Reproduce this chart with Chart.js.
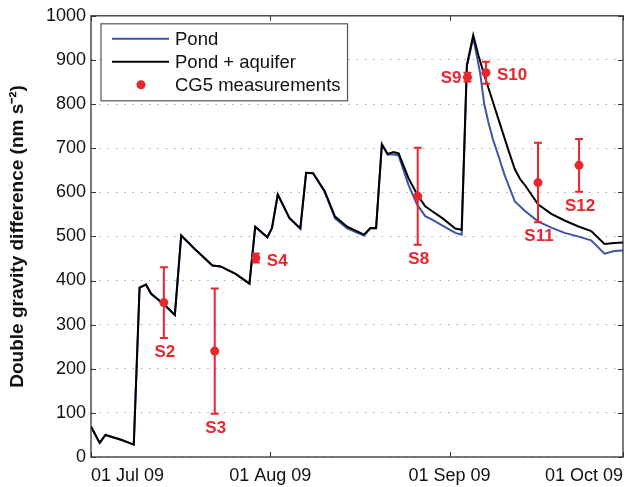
<!DOCTYPE html>
<html>
<head>
<meta charset="utf-8">
<title>Double gravity difference</title>
<script src="https://cdn.jsdelivr.net/npm/chart.js@4.4.1/dist/chart.umd.min.js"></script>
<style>
  html, body { margin: 0; padding: 0; background: #fff; }
  #chart { display: block; }
</style>
</head>
<body>
<canvas id="chart" width="636" height="487"></canvas>
<script>
// x values are days counted from 01 Jul 2009
const pondDays = [0, 1.5, 2.5, 5.2, 7.4, 8.4, 9.5, 10.4, 12.7, 14.5, 15.6, 17.9, 21.0, 22.4, 25.0,
  27.4, 28.4, 30.5, 31.3, 32.3, 34.3, 36.2, 37.2, 38.4, 40.4, 42.2, 44.3, 47.2, 48.3, 49.3,
  50.3, 51.3, 52.3, 53.2, 54.9, 56.4, 57.8, 59.0, 60.7, 63.0, 64.1, 65.0, 66.1, 67.3, 68.0,
  68.7, 69.5, 70.4, 71.5, 73.3, 75.0, 77.3, 79.6, 81.9, 84.2, 86.5, 88.8, 90.5, 92.0];
const pondValues = [69, 32, 50, 39, 28, 384, 391, 370, 345, 322, 502, 472, 434, 432, 415,
  393, 522, 498, 519, 595, 542, 517, 644, 643, 601, 541, 518, 502, 518, 518,
  709, 685, 686, 683, 617, 572, 546, 538, 525, 508, 504, 885, 950, 870, 800,
  760, 720, 685, 640, 579, 558, 534, 520, 508, 500, 491, 461, 467, 468];

const aquiferDays = [0, 1.5, 2.5, 5.2, 7.4, 8.4, 9.5, 10.4, 12.7, 14.5, 15.6, 17.9, 21.0, 22.4, 25.0,
  27.4, 28.4, 30.5, 31.3, 32.3, 34.3, 36.2, 37.2, 38.4, 40.4, 42.2, 44.3, 47.2, 48.3, 49.3,
  50.3, 51.3, 52.3, 53.2, 54.9, 56.4, 57.8, 59.0, 60.7, 63.0, 64.1, 65.0, 66.1, 67.0, 68.2,
  69.3, 70.4, 72.2, 73.3, 74.2, 75.0, 77.3, 79.6, 81.9, 84.2, 86.5, 88.8, 90.5, 92.0];
const aquiferValues = [69, 32, 50, 39, 28, 384, 391, 370, 345, 322, 502, 472, 434, 432, 415,
  393, 522, 498, 519, 595, 542, 518, 644, 643, 603, 545, 522, 504, 519, 519,
  709, 687, 691, 688, 632, 595, 568, 557, 542, 518, 515, 888, 956, 910, 858,
  813, 768, 695, 652, 630, 617, 573, 551, 536, 523, 512, 483, 485, 486];

// CG5 survey points with their uncertainty
const sampleNames = ['S2', 'S3', 'S4', 'S8', 'S9', 'S10', 'S11', 'S12'];
const sampleDays = [12.6, 21.4, 28.5, 56.5, 65.1, 68.3, 77.3, 84.4];
const sampleValues = [350, 240, 451, 591, 861, 871, 622, 661];
const sampleErrors = [80, 142, 10, 110, 10, 25, 90, 60];
const sampleLabelSide = ['below', 'below', 'right', 'below', 'left', 'right', 'below', 'below'];

const tickDays = [0, 31, 62, 92];
const tickLabels = ['01 Jul 09', '01 Aug 09', '01 Sep 09', '01 Oct 09'];

const FONT = "'Liberation Sans', Arial, Helvetica, sans-serif";
const RED = '#e8262d';
const BLUE = '#3b55a8';

function pairs(xs, ys) {
  return xs.map((x, i) => ({ x: x, y: ys[i] }));
}

// box, inward ticks, error bars, sample names and the legend
const decorations = {
  id: 'decorations',
  afterDatasetsDraw(chart) {
    const ctx = chart.ctx;
    const xs = chart.scales.x;
    const ys = chart.scales.y;
    ctx.save();
    ctx.strokeStyle = RED;
    ctx.lineWidth = 2;
    for (let i = 0; i < sampleDays.length; i++) {
      const px = xs.getPixelForValue(sampleDays[i]);
      const top = ys.getPixelForValue(sampleValues[i] + sampleErrors[i]);
      const bot = ys.getPixelForValue(sampleValues[i] - sampleErrors[i]);
      ctx.beginPath();
      ctx.moveTo(px, top); ctx.lineTo(px, bot);
      ctx.moveTo(px - 4, top); ctx.lineTo(px + 4, top);
      ctx.moveTo(px - 4, bot); ctx.lineTo(px + 4, bot);
      ctx.stroke();
    }
    ctx.fillStyle = RED;
    ctx.font = 'bold 17px ' + FONT;
    for (let i = 0; i < sampleDays.length; i++) {
      const px = xs.getPixelForValue(sampleDays[i]);
      const py = ys.getPixelForValue(sampleValues[i]);
      const bot = ys.getPixelForValue(sampleValues[i] - sampleErrors[i]);
      const side = sampleLabelSide[i];
      if (side === 'below') {
        ctx.textAlign = 'center'; ctx.textBaseline = 'top';
        ctx.fillText(sampleNames[i], px + 1, bot + 6);
      } else if (side === 'right') {
        ctx.textAlign = 'left'; ctx.textBaseline = 'middle';
        ctx.fillText(sampleNames[i], px + 11, py + 3);
      } else {
        ctx.textAlign = 'right'; ctx.textBaseline = 'middle';
        ctx.fillText(sampleNames[i], px - 6, py + 1);
      }
    }
    ctx.restore();
  },
  afterDraw(chart) {
    const ctx = chart.ctx;
    const a = chart.chartArea;
    const xs = chart.scales.x;
    const ys = chart.scales.y;
    ctx.save();
    ctx.strokeStyle = '#333';
    ctx.lineWidth = 1.3;
    ctx.strokeRect(a.left, a.top, a.right - a.left, a.bottom - a.top);
    ctx.beginPath();
    ys.ticks.forEach(t => {
      const py = Math.round(ys.getPixelForValue(t.value)) + 0.5;
      ctx.moveTo(a.left, py); ctx.lineTo(a.left + 5, py);
      ctx.moveTo(a.right, py); ctx.lineTo(a.right - 5, py);
    });
    xs.ticks.forEach(t => {
      const px = Math.round(xs.getPixelForValue(t.value)) + 0.5;
      ctx.moveTo(px, a.bottom); ctx.lineTo(px, a.bottom - 5);
      ctx.moveTo(px, a.top); ctx.lineTo(px, a.top + 5);
    });
    ctx.lineWidth = 1;
    ctx.stroke();

    // legend box in the upper left corner
    const sets = chart.data.datasets;
    ctx.font = '18.5px ' + FONT;
    let textW = 0;
    sets.forEach(ds => { textW = Math.max(textW, ctx.measureText(ds.label).width); });
    const x0 = a.left + 10;
    const y0 = a.top + 8;
    const rowH = 23;
    const w = 76 + textW + 5;
    const h = 16 + rowH * sets.length - 8;
    ctx.fillStyle = '#fff';
    ctx.fillRect(x0, y0, w, h);
    ctx.strokeStyle = '#555';
    ctx.lineWidth = 1.2;
    ctx.strokeRect(x0, y0, w, h);
    sets.forEach((ds, i) => {
      const cy = y0 + 15 + i * rowH;
      if (ds.showLine === false) {
        ctx.fillStyle = ds.pointBackgroundColor;
        ctx.beginPath();
        ctx.arc(x0 + 40, cy, 4.5, 0, Math.PI * 2);
        ctx.fill();
      } else {
        ctx.strokeStyle = ds.borderColor;
        ctx.lineWidth = ds.borderWidth;
        ctx.beginPath();
        ctx.moveTo(x0 + 11, cy); ctx.lineTo(x0 + 68, cy);
        ctx.stroke();
      }
      ctx.fillStyle = '#111';
      ctx.textAlign = 'left';
      ctx.textBaseline = 'middle';
      ctx.fillText(ds.label, x0 + 74, cy + 1);
    });
    ctx.restore();
  }
};

new Chart(document.getElementById('chart'), {
  type: 'line',
  data: {
    datasets: [
      {
        label: 'Pond',
        data: pairs(pondDays, pondValues),
        borderColor: BLUE,
        borderWidth: 2,
        pointRadius: 0,
        tension: 0,
        order: 2
      },
      {
        label: 'Pond + aquifer',
        data: pairs(aquiferDays, aquiferValues),
        borderColor: '#000',
        borderWidth: 2,
        pointRadius: 0,
        tension: 0,
        order: 1
      },
      {
        label: 'CG5 measurements',
        data: pairs(sampleDays, sampleValues),
        showLine: false,
        pointRadius: 4.5,
        pointBorderWidth: 0,
        pointBackgroundColor: RED,
        borderColor: RED,
        order: 0
      }
    ]
  },
  options: {
    responsive: false,
    animation: false,
    events: [],
    layout: { padding: { top: 14, right: 13, left: 0, bottom: 0 } },
    plugins: {
      legend: { display: false },
      tooltip: { enabled: false }
    },
    scales: {
      x: {
        type: 'linear',
        min: 0,
        max: 92,
        grid: { display: false },
        border: { display: false },
        afterBuildTicks: scale => { scale.ticks = tickDays.map(v => ({ value: v })); },
        afterFit: scale => { scale.height = 30; },
        ticks: {
          align: 'inner',
          autoSkip: false,
          maxRotation: 0,
          padding: 0,
          color: '#111',
          font: { family: FONT, size: 18 },
          callback: value => {
            const i = tickDays.indexOf(value);
            return i >= 0 ? tickLabels[i] : '';
          }
        }
      },
      y: {
        min: 0,
        max: 1000,
        grid: { color: '#a8a8a8', lineWidth: 1, drawTicks: false },
        border: { display: false, dash: [1.5, 6.8] },
        afterFit: scale => { scale.width = 91; },
        ticks: {
          stepSize: 100,
          padding: 5,
          color: '#111',
          font: { family: FONT, size: 18 },
          callback: value => String(value)
        },
        title: {
          display: true,
          text: 'Double gravity difference (nm s\u207B\u00B2)',
          color: '#111',
          padding: { top: 6, bottom: 0 },
          font: { family: FONT, size: 19, weight: 'bold' }
        }
      }
    }
  },
  plugins: [decorations]
});
</script>
</body>
</html>
